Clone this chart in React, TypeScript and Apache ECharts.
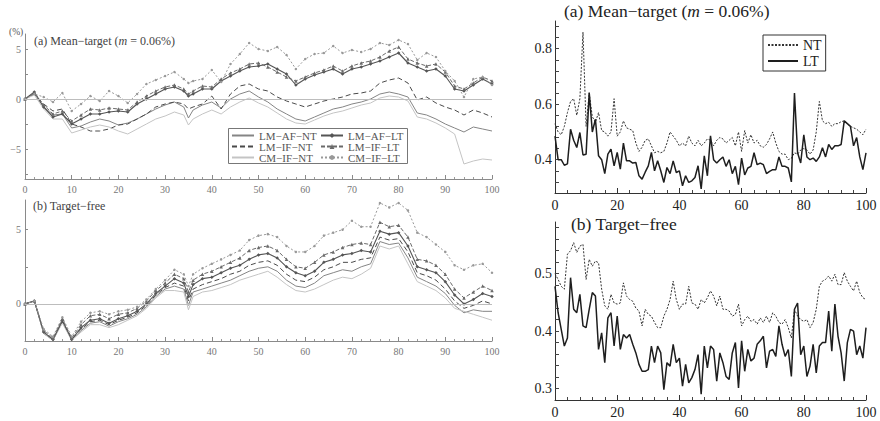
import React, { useEffect, useRef } from "react";
import * as echarts from "echarts";

// ---------- data ----------
const X_LEFT = [0,2,4,6,8,10,12,14,16,18,20,22,24,26,28,30,32,34,35,36,38,40,42,44,46,48,50,52,54,56,58,60,62,64,66,68,70,72,74,76,78,80,82,84,86,88,90,92,94,96,98,100];

const NAMES_NT = ["LM−AF−NT", "LM−IF−NT", "CM−IF−NT"];
const NAMES_LT = ["LM−AF−LT", "LM−IF−LT", "CM−IF−LT"];
const NAMES_RIGHT = ["NT", "LT"];

// Panel (a) left: mean-target, %
const A_LM_AF_NT = [0,0.5,-0.8,-1.6,-1.5,-2.9,-2.7,-2.3,-2.0,-2.2,-2.6,-2.4,-2.0,-1.5,-1.0,-0.6,-0.3,-0.8,-1.9,-1.1,-0.6,-0.3,-0.9,0.0,0.5,0.8,0.2,-0.3,-1.0,-1.5,-2.0,-2.2,-1.8,-1.4,-1.0,-0.8,-0.5,-0.3,0.0,0.5,0.7,0.5,0.2,-1.4,-1.6,-2.0,-2.5,-2.9,-3.3,-2.8,-3.0,-3.2];
const A_LM_IF_NT = [0,0.5,-0.5,-1.2,-1.0,-2.5,-2.8,-3.2,-3.2,-3.0,-2.6,-2.5,-2.0,-1.5,-0.8,-0.5,-0.3,-0.5,-1.0,-0.8,-0.5,0.3,-1.0,0.5,1.3,1.5,1.0,0.8,0.2,-0.2,-0.5,-0.8,-0.5,-0.2,0.0,0.2,0.5,0.6,0.8,1.6,1.9,2.1,1.6,-0.1,0.2,-0.4,-0.8,-1.1,-1.6,-1.1,-1.4,-1.8];
const A_CM_IF_NT = [0,0.4,-1.0,-2.0,-2.0,-3.4,-3.1,-2.8,-2.6,-2.8,-3.2,-3.5,-3.0,-2.5,-2.0,-1.7,-1.3,-1.6,-2.6,-2.0,-1.5,-1.1,-1.5,-0.8,-0.3,0.1,-0.4,-0.8,-1.4,-2.0,-2.4,-2.5,-2.1,-1.7,-1.4,-1.2,-0.9,-0.6,-0.4,0.1,0.3,0.2,-0.2,-1.8,-2.0,-2.4,-2.9,-3.5,-6.5,-6.2,-6.0,-6.1];
const A_LM_AF_LT = [0,0.7,-0.8,-1.8,-1.5,-2.5,-2.0,-1.5,-1.5,-1.3,-1.2,-1.3,-0.5,0.0,0.5,1.0,1.2,0.8,0.3,0.5,1.0,1.0,1.8,2.3,2.8,3.2,3.3,3.5,3.0,2.5,1.4,2.0,2.4,2.7,3.0,2.5,3.0,3.2,3.5,3.8,4.2,4.6,3.6,3.2,2.8,3.0,2.3,1.0,0.8,1.4,2.0,1.5];
const A_LM_IF_LT = [0,0.6,-0.6,-1.5,-1.2,-2.2,-1.6,-1.0,-1.1,-0.9,-1.0,-1.1,-0.3,0.3,0.8,1.2,1.4,1.0,0.5,0.8,1.3,1.2,2.0,2.6,3.0,3.5,3.6,3.2,2.7,2.2,1.8,2.2,2.6,2.9,3.3,2.8,3.3,3.6,3.8,4.2,4.8,5.2,4.0,3.6,3.3,3.5,2.7,1.3,1.0,1.6,2.2,1.8];
const A_CM_IF_LT = [0,0.5,0.2,-0.3,0.6,-1.2,-0.5,0.3,-0.2,0.8,0.3,-0.4,0.5,1.5,1.9,2.3,2.7,2.0,1.6,1.8,2.0,2.9,1.7,3.5,4.5,5.6,5.0,4.8,5.2,4.4,3.0,4.0,4.5,4.6,5.3,4.6,4.9,4.7,5.0,5.6,5.4,5.9,5.5,3.9,4.6,4.2,2.8,1.8,0.2,2.0,2.2,1.4];

// Panel (b) left: target-free, %
const B_LM_AF_NT = [0,0.2,-2.0,-2.45,-1.2,-2.45,-1.8,-1.3,-1.2,-1.5,-1.2,-1.0,-0.7,-0.2,0.5,1.0,1.2,1.0,-0.1,0.8,1.0,1.2,1.4,1.6,1.9,2.2,2.4,2.5,2.2,1.6,1.2,1.1,1.4,1.9,2.1,2.3,2.2,2.5,2.7,4.2,4.0,4.1,3.1,1.8,1.5,1.2,0.7,-0.1,-0.6,-0.4,-0.5,-0.5];
const B_LM_IF_NT = [0,0.2,-1.9,-2.4,-1.2,-2.4,-1.7,-1.2,-1.1,-1.4,-1.1,-0.9,-0.6,-0.1,0.6,1.1,1.4,1.2,0.2,1.0,1.3,1.5,1.7,2.0,2.2,2.6,2.8,2.9,2.6,2.0,1.6,1.5,1.8,2.3,2.5,2.8,2.8,3.0,3.1,4.5,4.3,4.4,3.5,2.1,1.9,1.6,1.0,0.2,-0.3,-0.1,0.2,0.0];
const B_CM_IF_NT = [0,0.2,-2.0,-2.45,-1.3,-2.45,-1.9,-1.4,-1.4,-1.6,-1.4,-1.1,-0.8,-0.3,0.4,0.9,0.9,0.8,-0.4,0.5,0.8,0.9,1.1,1.3,1.6,1.8,2.0,2.2,1.8,1.3,0.9,0.8,1.0,1.3,1.6,1.8,1.7,2.0,2.4,3.9,3.7,3.9,2.7,1.5,1.2,0.9,0.4,-0.3,-0.5,-0.7,-0.9,-1.1];
const B_LM_AF_LT = [0,0.2,-1.9,-2.4,-1.1,-2.4,-1.6,-1.1,-1.0,-1.3,-1.0,-0.8,-0.5,0.0,0.7,1.2,1.7,1.4,0.5,1.3,1.7,1.8,2.1,2.4,2.6,3.0,3.3,3.4,3.1,2.5,2.1,1.9,2.2,2.8,3.0,3.3,3.4,3.6,3.5,4.9,4.7,4.8,3.9,2.5,2.3,2.1,1.5,0.6,0.0,0.3,0.7,0.5];
const B_LM_IF_LT = [0,0.2,-1.8,-2.3,-1.0,-2.3,-1.4,-0.8,-0.7,-1.0,-0.7,-0.6,-0.3,0.2,0.9,1.4,2.0,1.7,0.8,1.6,2.0,2.2,2.5,2.8,3.1,3.6,3.8,3.9,3.6,3.0,2.5,2.4,2.8,3.3,3.5,3.8,4.0,4.1,4.0,5.5,5.2,5.3,4.5,3.0,2.9,2.6,2.0,1.0,0.4,0.8,1.2,0.9];
const B_CM_IF_LT = [0,0.2,-1.7,-2.2,-0.9,-2.2,-1.2,-0.6,-0.5,-0.7,-0.5,-0.4,-0.2,0.3,1.0,1.6,2.3,2.0,1.2,2.0,2.4,2.7,3.0,3.3,3.6,4.3,4.6,4.7,4.5,3.9,3.5,3.5,3.9,4.6,4.8,5.0,5.6,5.2,5.2,6.8,6.5,6.8,6.3,4.8,4.5,4.0,3.5,2.6,2.3,2.6,2.7,2.1];

// Right panels, x = 0..100
const NT_A = [0.53,0.50,0.49,0.52,0.57,0.61,0.62,0.56,0.62,0.86,0.52,0.64,0.555,0.535,0.57,0.505,0.50,0.485,0.50,0.62,0.485,0.50,0.54,0.515,0.51,0.505,0.46,0.43,0.445,0.47,0.475,0.45,0.425,0.43,0.425,0.43,0.46,0.50,0.485,0.47,0.45,0.46,0.45,0.485,0.46,0.45,0.47,0.45,0.46,0.475,0.47,0.45,0.47,0.48,0.475,0.46,0.47,0.48,0.45,0.50,0.43,0.505,0.46,0.49,0.46,0.47,0.45,0.445,0.455,0.475,0.50,0.46,0.43,0.42,0.42,0.40,0.405,0.425,0.42,0.435,0.44,0.435,0.42,0.435,0.50,0.61,0.54,0.53,0.535,0.52,0.53,0.53,0.537,0.54,0.53,0.52,0.515,0.51,0.50,0.49,0.51];
const LT_A = [0.485,0.40,0.40,0.38,0.385,0.51,0.47,0.444,0.498,0.417,0.42,0.642,0.50,0.546,0.414,0.40,0.35,0.42,0.438,0.378,0.426,0.366,0.46,0.396,0.396,0.388,0.39,0.342,0.33,0.355,0.378,0.426,0.36,0.396,0.36,0.318,0.372,0.35,0.396,0.354,0.36,0.306,0.342,0.318,0.324,0.336,0.378,0.295,0.414,0.342,0.486,0.40,0.388,0.40,0.41,0.376,0.40,0.35,0.376,0.31,0.406,0.345,0.37,0.376,0.425,0.382,0.388,0.382,0.35,0.358,0.364,0.364,0.41,0.376,0.376,0.37,0.32,0.64,0.425,0.388,0.49,0.41,0.40,0.406,0.394,0.41,0.443,0.41,0.455,0.437,0.45,0.45,0.455,0.54,0.53,0.52,0.45,0.48,0.41,0.364,0.425];
const NT_B = [0.50,0.49,0.478,0.473,0.534,0.54,0.554,0.537,0.548,0.551,0.49,0.525,0.513,0.522,0.519,0.473,0.444,0.438,0.464,0.449,0.447,0.449,0.484,0.461,0.455,0.452,0.44,0.435,0.409,0.438,0.429,0.426,0.415,0.406,0.406,0.426,0.438,0.455,0.487,0.455,0.438,0.447,0.447,0.478,0.449,0.447,0.438,0.455,0.449,0.458,0.47,0.461,0.444,0.461,0.438,0.438,0.435,0.426,0.429,0.447,0.409,0.42,0.426,0.417,0.42,0.412,0.423,0.415,0.426,0.415,0.432,0.426,0.415,0.412,0.42,0.406,0.388,0.438,0.426,0.42,0.417,0.42,0.406,0.415,0.438,0.478,0.487,0.49,0.496,0.487,0.499,0.481,0.481,0.502,0.487,0.478,0.47,0.487,0.467,0.458,0.455];
const LT_B = [0.478,0.432,0.403,0.374,0.388,0.493,0.438,0.432,0.464,0.409,0.406,0.438,0.467,0.461,0.368,0.397,0.345,0.423,0.432,0.374,0.426,0.368,0.394,0.388,0.394,0.377,0.362,0.342,0.33,0.33,0.333,0.374,0.345,0.374,0.362,0.298,0.345,0.339,0.377,0.345,0.353,0.304,0.342,0.31,0.319,0.333,0.359,0.29,0.374,0.336,0.374,0.368,0.313,0.362,0.345,0.321,0.316,0.362,0.38,0.301,0.383,0.33,0.368,0.348,0.353,0.377,0.383,0.391,0.336,0.365,0.368,0.356,0.409,0.377,0.356,0.368,0.321,0.438,0.449,0.359,0.374,0.321,0.339,0.377,0.327,0.374,0.38,0.38,0.435,0.365,0.447,0.391,0.362,0.313,0.38,0.403,0.4,0.359,0.374,0.353,0.406];

// tick labels
const LEFT_X_LABEL_STEP = 10;
const LEFT_A_Y_LABELS = [-5, 0, 5];
const LEFT_A_Y_TICKS = [-7.5, -5, -2.5, 0, 2.5, 5];
const LEFT_B_Y_LABELS = [0, 5];
const LEFT_B_Y_TICKS = [-2.5, 0, 2.5, 5];
const RIGHT_X_LABEL_STEP = 20;
const RIGHT_A_Y_LABELS = [0.4, 0.6, 0.8];
const RIGHT_A_Y_TICKS = [0.32,0.36,0.4,0.44,0.48,0.52,0.56,0.6,0.64,0.68,0.72,0.76,0.8,0.84,0.88];
const RIGHT_B_Y_LABELS = [0.3, 0.4, 0.5];
const RIGHT_B_Y_TICKS = [0.3,0.32,0.34,0.36,0.38,0.4,0.42,0.44,0.46,0.48,0.5,0.52,0.54,0.56,0.58];

// ---------- styles ----------
const SERIF = "'Liberation Serif', 'Times New Roman', serif";

const LEFT_STYLE: Record<string, any> = {
  "LM−AF−NT": { color: "#858585", type: "solid", width: 1, symbol: "none", size: 0 },
  "LM−IF−NT": { color: "#4a4a4a", type: [5, 3], width: 1, symbol: "none", size: 0 },
  "CM−IF−NT": { color: "#c4c4c4", type: "solid", width: 1, symbol: "none", size: 0 },
  "LM−AF−LT": { color: "#555555", type: "solid", width: 1.1, symbol: "diamond", size: 3.5 },
  "LM−IF−LT": { color: "#6a6a6a", type: [4, 2], width: 1, symbol: "triangle", size: 3.5 },
  "CM−IF−LT": { color: "#999999", type: [2, 2], width: 1, symbol: "circle", size: 2.5 },
};

function leftSeries(name: string, values: number[], panel: number, zero: boolean) {
  const st = LEFT_STYLE[name];
  const s: any = {
    type: "line",
    name,
    xAxisIndex: panel,
    yAxisIndex: panel,
    data: X_LEFT.map((x, i) => [x, values[i]]),
    symbol: st.symbol,
    symbolSize: st.size,
    showSymbol: st.symbol !== "none",
    lineStyle: { color: st.color, type: st.type, width: st.width },
    itemStyle: { color: st.color },
    emphasis: { disabled: true },
    silent: true,
  };
  if (zero) {
    s.markLine = {
      silent: true,
      symbol: ["none", "none"],
      label: { show: false },
      lineStyle: { color: "#bdbdbd", type: "solid", width: 1 },
      data: [{ yAxis: 0 }],
    };
  }
  return s;
}

function rightSeries(name: string, values: number[], panel: number) {
  const dotted = name === "NT";
  return {
    type: "line",
    name,
    xAxisIndex: panel,
    yAxisIndex: panel,
    data: values.map((v, i) => [i, v]),
    symbol: "none",
    showSymbol: false,
    lineStyle: dotted
      ? { color: "#333", type: [2, 1.5], width: 1 }
      : { color: "#1e1e1e", type: "solid", width: 1.5 },
    itemStyle: { color: dotted ? "#333" : "#1e1e1e" },
    emphasis: { disabled: true },
    silent: true,
  };
}

const minusFmt = (v: number) => (v < 0 ? "−" + Math.abs(v) : String(v));

function leftX(grid: number) {
  return {
    gridIndex: grid,
    type: "value",
    min: 0,
    max: 100,
    interval: LEFT_X_LABEL_STEP,
    axisLine: { show: true, onZero: false, lineStyle: { color: "#8a8a8a", width: 1 } },
    axisTick: { show: true, inside: true, length: 4, lineStyle: { color: "#8a8a8a" } },
    minorTick: { show: true, splitNumber: 5, length: 2, lineStyle: { color: "#9a9a9a" } },
    axisLabel: { fontSize: 10, color: "#777", fontFamily: SERIF, margin: 5 },
    splitLine: { show: false },
  };
}

function leftY(grid: number, min: number, max: number, labels: number[], ticks: number[]) {
  return {
    gridIndex: grid,
    type: "value",
    min,
    max,
    axisLine: { show: true, onZero: false, lineStyle: { color: "#8a8a8a", width: 1 } },
    axisTick: { show: true, inside: true, length: 3, customValues: ticks, lineStyle: { color: "#8a8a8a" } },
    axisLabel: { fontSize: 10, color: "#777", fontFamily: SERIF, margin: 4, customValues: labels, formatter: minusFmt },
    splitLine: { show: false },
  };
}

function rightX(grid: number) {
  return {
    gridIndex: grid,
    type: "value",
    min: 0,
    max: 100,
    interval: RIGHT_X_LABEL_STEP,
    axisLine: { show: true, onZero: false, lineStyle: { color: "#333", width: 1 } },
    axisTick: { show: true, inside: true, length: 5, lineStyle: { color: "#333" } },
    minorTick: { show: true, splitNumber: 5, length: 3, lineStyle: { color: "#444" } },
    axisLabel: { fontSize: 14, color: "#222", fontFamily: SERIF, margin: 5 },
    splitLine: { show: false },
  };
}

function rightY(grid: number, min: number, max: number, labels: number[], ticks: number[]) {
  return {
    gridIndex: grid,
    type: "value",
    min,
    max,
    axisLine: { show: true, onZero: false, lineStyle: { color: "#333", width: 1 } },
    axisTick: { show: true, inside: true, length: 4, customValues: ticks, lineStyle: { color: "#444" } },
    axisLabel: {
      fontSize: 14,
      color: "#222",
      fontFamily: SERIF,
      margin: 3,
      customValues: labels,
      formatter: (v: number) => v.toFixed(1),
    },
    splitLine: { show: false },
  };
}

function title(text: string, left: number, top: number, size: number, color: string) {
  return {
    text,
    left,
    top,
    padding: 0,
    textStyle: {
      fontFamily: SERIF,
      fontSize: size,
      fontWeight: "normal",
      color,
      rich: {
        i: { fontFamily: SERIF, fontSize: size, fontStyle: "italic", color },
      },
    },
  };
}

// legend entries: hide symbol on NT (no-marker) lines
const legendItem = (name: string, hideSymbol: boolean) =>
  hideSymbol ? { name, itemStyle: { opacity: 0 } } : { name };

export default function App() {
  const ref = useRef<HTMLDivElement>(null);

  useEffect(() => {
    if (!ref.current) return;
    const chart = echarts.init(ref.current, null, { renderer: "svg" });

    const option: any = {
      animation: false,
      backgroundColor: "#fff",
      title: [
        title("(%)", 9, 27, 9.5, "#555"),
        title("(a) Mean−target ({i|m} = 0.06%)", 34, 35, 12, "#444"),
        title("(b) Target−free", 33, 200, 12, "#444"),
        title("(a) Mean−target ({i|m} = 0.06%)", 564, 2, 17.5, "#222"),
        title("(b) Target−free", 571, 215, 17.5, "#222"),
      ],
      grid: [
        { left: 25, top: 34, width: 467, height: 145, containLabel: false, outerBoundsMode: "none" },
        { left: 25, top: 200, width: 467, height: 141, containLabel: false, outerBoundsMode: "none" },
        { left: 555, top: 21, width: 311, height: 172, containLabel: false, outerBoundsMode: "none" },
        { left: 555, top: 222, width: 311, height: 178, containLabel: false, outerBoundsMode: "none" },
      ],
      xAxis: [leftX(0), leftX(1), rightX(2), rightX(3)],
      yAxis: [
        leftY(0, -8, 6.5, LEFT_A_Y_LABELS, LEFT_A_Y_TICKS),
        leftY(1, -2.5, 7, LEFT_B_Y_LABELS, LEFT_B_Y_TICKS),
        rightY(2, 0.28, 0.9, RIGHT_A_Y_LABELS, RIGHT_A_Y_TICKS),
        rightY(3, 0.28, 0.59, RIGHT_B_Y_LABELS, RIGHT_B_Y_TICKS),
      ],
      legend: [
        {
          data: NAMES_NT.map((n) => legendItem(n, true)),
          orient: "vertical",
          left: 231,
          top: 130,
          padding: 0,
          itemGap: 0,
          itemWidth: 22,
          itemHeight: 7,
          selectedMode: false,
          textStyle: { fontFamily: SERIF, fontSize: 11, color: "#555", lineHeight: 11 },
          z: 5,
        },
        {
          data: NAMES_LT.map((n) => legendItem(n, false)),
          orient: "vertical",
          left: 320,
          top: 130,
          padding: 0,
          itemGap: 0,
          itemWidth: 22,
          itemHeight: 6,
          selectedMode: false,
          textStyle: { fontFamily: SERIF, fontSize: 11, color: "#555", lineHeight: 11 },
          z: 5,
        },
        {
          data: NAMES_RIGHT.map((n) => legendItem(n, true)),
          orient: "vertical",
          left: 763,
          top: 35,
          padding: [3, 4, 3, 4],
          itemGap: 2,
          itemWidth: 30,
          itemHeight: 12,
          selectedMode: false,
          borderColor: "#333",
          borderWidth: 1,
          backgroundColor: "#fff",
          textStyle: { fontFamily: SERIF, fontSize: 14, color: "#222", lineHeight: 14 },
          z: 5,
        },
      ],
      graphic: [
        {
          type: "rect",
          z: 3,
          silent: true,
          shape: { x: 228.5, y: 128.5, width: 179, height: 35 },
          style: { fill: "#fff", stroke: "#777", lineWidth: 1 },
        },
      ],
      series: [
        leftSeries("LM−AF−NT", A_LM_AF_NT, 0, true),
        leftSeries("LM−IF−NT", A_LM_IF_NT, 0, false),
        leftSeries("CM−IF−NT", A_CM_IF_NT, 0, false),
        leftSeries("LM−AF−LT", A_LM_AF_LT, 0, false),
        leftSeries("LM−IF−LT", A_LM_IF_LT, 0, false),
        leftSeries("CM−IF−LT", A_CM_IF_LT, 0, false),
        leftSeries("LM−AF−NT", B_LM_AF_NT, 1, true),
        leftSeries("LM−IF−NT", B_LM_IF_NT, 1, false),
        leftSeries("CM−IF−NT", B_CM_IF_NT, 1, false),
        leftSeries("LM−AF−LT", B_LM_AF_LT, 1, false),
        leftSeries("LM−IF−LT", B_LM_IF_LT, 1, false),
        leftSeries("CM−IF−LT", B_CM_IF_LT, 1, false),
        rightSeries("NT", NT_A, 2),
        rightSeries("LT", LT_A, 2),
        rightSeries("NT", NT_B, 3),
        rightSeries("LT", LT_B, 3),
      ],
    };

    chart.setOption(option);
    return () => chart.dispose();
  }, []);

  return (
    <div
      ref={ref}
      style={{ position: "fixed", left: 0, top: 0, width: 880, height: 421, background: "#fff" }}
    />
  );
}
